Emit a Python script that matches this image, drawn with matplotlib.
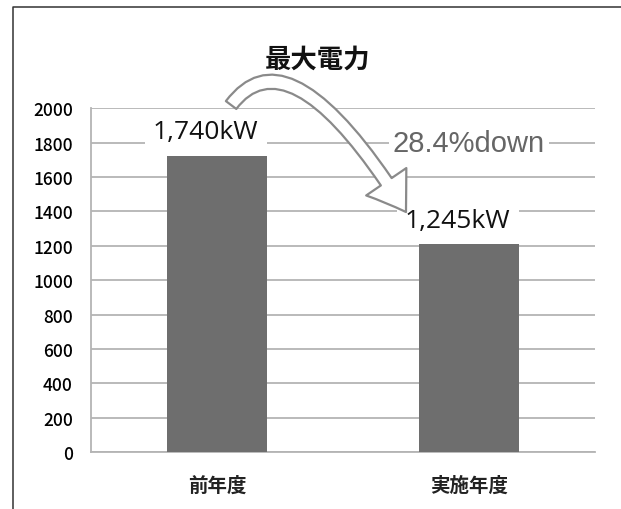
import matplotlib
matplotlib.use("Agg")
import matplotlib.pyplot as plt
from matplotlib.lines import Line2D

plt.rcParams['font.family'] = ['Noto Sans CJK JP', 'DejaVu Sans']

# data
categories = ['前年度', '実施年度']
peak_kw = [1725, 1210]
value_labels = ['1,740kW', '1,245kW']
y_ticks = [0, 200, 400, 600, 800, 1000, 1200, 1400, 1600, 1800, 2000]
title = '最大電力'
change_label = '28.4%down'

BAR_COLOR = '#6e6e6e'
GRID_COLOR = '#b4b4b4'


def main():
    fig = plt.figure(figsize=(6.21, 5.10), dpi=100)
    ax = fig.add_axes([0.1465, 0.1112, 0.8116, 0.6745])

    x = list(range(len(categories)))
    ax.bar(x, peak_kw, width=0.4, color=BAR_COLOR, zorder=3)

    ax.set_xlim(-0.5, len(categories) - 0.5)
    ax.set_ylim(0, 2000)
    ax.set_yticks(y_ticks)
    ax.set_xticks(x)
    ax.set_xticklabels(categories, fontsize=14, fontweight='bold', color='#222222')
    ax.set_yticklabels([str(t) for t in y_ticks], fontsize=12.5, fontweight='medium', color='#000000')
    ax.tick_params(axis='y', length=0, pad=13)
    ax.tick_params(axis='x', length=0, pad=17)
    ax.grid(axis='y', color=GRID_COLOR, linewidth=1.3, zorder=0)
    ax.set_axisbelow(True)
    for side in ['top', 'right']:
        ax.spines[side].set_visible(False)
    for side in ['left', 'bottom']:
        ax.spines[side].set_color(GRID_COLOR)
        ax.spines[side].set_linewidth(1.3)

    # value labels
    for xi, val, lab in zip(x, peak_kw, value_labels):
        ax.annotate(lab, xy=(xi, val), xytext=(-8, 17), textcoords='offset points',
                    ha='center', va='center', fontsize=19, family=['Open Sans', 'DejaVu Sans'],
                    color='#111111', zorder=5,
                    bbox=dict(boxstyle='square,pad=0.3', facecolor='white', edgecolor='none'))

    ax.text(1.0, 1800, change_label, ha='center', va='center', fontsize=21,
            family=['Liberation Sans', 'DejaVu Sans'], color='#666666', zorder=5,
            bbox=dict(boxstyle='square,pad=0.15', facecolor='white', edgecolor='none'))

    # curved hollow arrow from the first bar to the second
    ax.annotate('', xy=(0.75, 1397), xytext=(0.056, 2019),
                arrowprops=dict(arrowstyle='simple,head_length=1.3,head_width=1.75,tail_width=0.47',
                                connectionstyle='angle3,angleA=53,angleB=-58',
                                facecolor='white', edgecolor='#8a8a8a', linewidth=1.6,
                                mutation_scale=20, shrinkA=0, shrinkB=0),
                annotation_clip=False, zorder=6)

    fig.text(0.512, 0.882, title, ha='center', va='center', fontsize=19,
             fontweight='bold', color='#111111')

    # outer frame (top and left edges only)
    fig.add_artist(Line2D([0.021, 0.021, 1.0], [0.0, 0.985, 0.985],
                          transform=fig.transFigure, color='#333333', linewidth=1.1))

    fig.savefig('out.png', dpi=100, facecolor='white')
    plt.close(fig)


if __name__ == '__main__':
    main()
